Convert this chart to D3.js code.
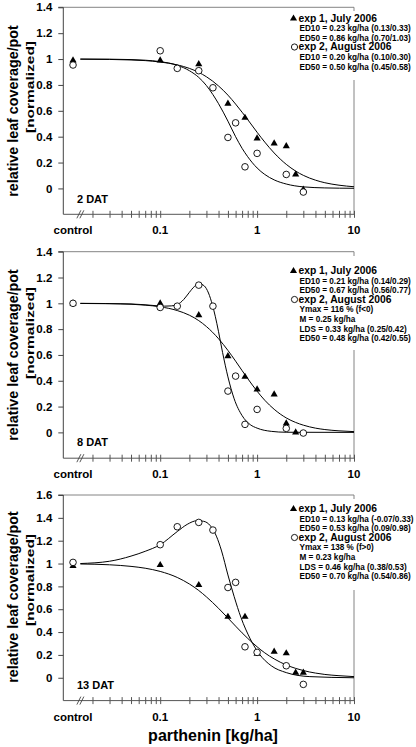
<!DOCTYPE html>
<html><head><meta charset="utf-8">
<script src="https://cdn.jsdelivr.net/npm/d3@7"></script>
<style>
body{margin:0;background:#fff}
svg{display:block}
text{font-family:"Liberation Sans",Arial,sans-serif;font-weight:bold;fill:#000}
</style>
</head><body>
<svg id="chart" width="416" height="747"></svg>
<script>
// ---------- data ----------
const controlLabel = "control";
const controlDose = 0.0126;              // where "control" sits on the log axis
const xTickValues = [0.1, 1, 10];
const xTickLabels = ["0.1", "1", "10"];
const xMinorTicks = [0.02,0.03,0.04,0.05,0.06,0.07,0.08,0.09,0.2,0.3,0.4,0.5,0.6,0.7,0.8,0.9,2,3,4,5,6,7,8,9];
const yTicksA = [0, 0.2, 0.4, 0.6, 0.8, 1, 1.2, 1.4];
const yTicksB = [0, 0.2, 0.4, 0.6, 0.8, 1, 1.2, 1.4, 1.6];
const panelLabels = ["2 DAT", "8 DAT", "13 DAT"];
const yTitle = "relative leaf coverage/pot";
const yTitle2 = "[normalized]";
const xTitle = "parthenin [kg/ha]";

// 2 DAT
const p1Exp1Dose  = [0, 0.1, 0.25, 0.5, 0.75, 1, 1.5, 2, 2.5, 3];
const p1Exp1Value = [0.99, 0.99, 0.96, 0.655, 0.546, 0.387, 0.348, 0.327, 0.108, -0.01];
const p1Exp2Dose  = [0, 0.1, 0.15, 0.25, 0.35, 0.5, 0.6, 0.75, 1, 2, 3];
const p1Exp2Value = [0.954, 1.064, 0.928, 0.91, 0.778, 0.394, 0.507, 0.167, 0.271, 0.108, -0.028];
const p1Fit1Dose  = [0.015,0.03,0.05,0.07,0.1,0.15,0.2,0.25,0.3,0.4,0.5,0.6,0.7,0.8,1,1.2,1.5,2,2.5,3,4,5,7,10];
const p1Fit1Value = [0.999,0.997,0.993,0.988,0.977,0.955,0.928,0.897,0.863,0.792,0.721,0.652,0.589,0.532,0.434,0.358,0.274,0.186,0.134,0.101,0.064,0.044,0.025,0.013];
const p1Fit2Dose  = [0.015,0.03,0.05,0.07,0.1,0.15,0.2,0.25,0.3,0.35,0.4,0.5,0.6,0.7,0.8,1,1.2,1.5,2,3,5,10];
const p1Fit2Value = [1.0,0.999,0.996,0.991,0.98,0.952,0.91,0.858,0.795,0.725,0.655,0.52,0.40,0.31,0.245,0.158,0.108,0.066,0.034,0.012,0.004,0.001];

// 8 DAT
const p2Exp1Dose  = [0, 0.1, 0.25, 0.5, 0.75, 1, 1.5, 2, 2.5];
const p2Exp1Value = [1.0, 1.0, 0.909, 0.591, 0.431, 0.333, 0.294, 0.07, 0.0];
const p2Exp2Dose  = [0, 0.1, 0.15, 0.25, 0.35, 0.5, 0.6, 0.75, 1, 2, 3];
const p2Exp2Value = [1.0, 0.968, 0.978, 1.141, 0.978, 0.32, 0.436, 0.062, 0.178, 0.031, -0.005];
const p2Fit1Dose  = [0.015,0.03,0.05,0.07,0.1,0.15,0.2,0.25,0.3,0.4,0.5,0.6,0.7,0.8,1,1.2,1.5,2,2.5,3,4,5,7,10];
const p2Fit1Value = [0.999,0.997,0.993,0.986,0.973,0.944,0.908,0.866,0.820,0.726,0.635,0.552,0.479,0.417,0.319,0.249,0.179,0.112,0.077,0.056,0.033,0.022,0.012,0.006];
const p2Fit2Dose  = [0.015,0.05,0.08,0.11,0.13,0.15,0.175,0.2,0.225,0.255,0.285,0.315,0.345,0.37,0.4,0.44,0.5,0.58,0.7,0.85,1,1.4,2,10];
const p2Fit2Value = [1.0,0.995,0.985,0.978,0.98,0.99,1.03,1.085,1.13,1.15,1.135,1.08,0.99,0.9,0.78,0.62,0.43,0.26,0.13,0.06,0.033,0.008,0.001,0.0];

// 13 DAT
const p3Exp1Dose  = [0, 0.1, 0.25, 0.5, 0.75, 1, 1.5, 2, 2.5, 3];
const p3Exp1Value = [0.98, 0.987, 0.812, 0.534, 0.534, 0.21, 0.228, 0.214, 0.044, 0.044];
const p3Exp2Dose  = [0, 0.1, 0.15, 0.25, 0.35, 0.5, 0.6, 0.75, 1, 2, 3];
const p3Exp2Value = [1.01, 1.165, 1.322, 1.36, 1.293, 0.79, 0.835, 0.271, 0.222, 0.105, -0.058];
const p3Fit1Dose  = [0.015,0.03,0.05,0.07,0.1,0.15,0.2,0.25,0.3,0.4,0.5,0.6,0.7,0.8,1,1.2,1.5,2,2.5,3,4,5,7,10];
const p3Fit1Value = [0.996,0.989,0.975,0.959,0.931,0.878,0.821,0.764,0.708,0.608,0.523,0.452,0.393,0.345,0.271,0.218,0.165,0.112,0.082,0.063,0.041,0.029,0.018,0.010];
const p3Fit2Dose  = [0.015,0.03,0.05,0.07,0.1,0.15,0.19,0.24,0.28,0.33,0.38,0.43,0.5,0.58,0.68,0.85,1.05,1.4,2,3.5,10];
const p3Fit2Value = [1.0,1.02,1.065,1.107,1.165,1.28,1.343,1.375,1.37,1.33,1.24,1.11,0.9,0.71,0.53,0.34,0.21,0.105,0.045,0.01,0.0];

// legends
const p1Legend1 = ["exp 1, July 2006", "ED10 = 0.23 kg/ha (0.13/0.33)", "ED50 = 0.86 kg/ha (0.70/1.03)"];
const p1Legend2 = ["exp 2, August 2006", "ED10 = 0.20 kg/ha (0.10/0.30)", "ED50 = 0.50 kg/ha (0.45/0.58)"];
const p2Legend1 = ["exp 1, July 2006", "ED10 = 0.21 kg/ha (0.14/0.29)", "ED50 = 0.67 kg/ha (0.56/0.77)"];
const p2Legend2 = ["exp 2, August 2006", "Ymax = 116 % (f<0)", "M = 0.25 kg/ha", "LDS = 0.33 kg/ha (0.25/0.42)", "ED50 = 0.48 kg/ha (0.42/0.55)"];
const p3Legend1 = ["exp 1, July 2006", "ED10 = 0.13 kg/ha (-0.07/0.33)", "ED50 = 0.53 kg/ha (0.09/0.98)"];
const p3Legend2 = ["exp 2, August 2006", "Ymax = 138 % (f>0)", "M = 0.23 kg/ha", "LDS = 0.46 kg/ha (0.38/0.53)", "ED50 = 0.70 kg/ha (0.54/0.86)"];

// ---------- layout ----------
const svg = d3.select("#chart");
const L = 63.3, R = 354;
const x = d3.scaleLog().domain([0.01, 10]).range([L, R]);
const panels = [
  {top: 7.3,   bottom: 214.3, yMax: 1.4, yTicks: yTicksA, label: panelLabels[0],
   e1: [p1Exp1Dose, p1Exp1Value], e2: [p1Exp2Dose, p1Exp2Value],
   f1: [p1Fit1Dose, p1Fit1Value], f2: [p1Fit2Dose, p1Fit2Value],
   leg1: p1Legend1, leg2: p1Legend2, legTop: 11, legBottom: 80, legY: 21.5, titleC: 111, title2C: 87},
  {top: 251.7, bottom: 458.2, yMax: 1.4, yTicks: yTicksA, label: panelLabels[1],
   e1: [p2Exp1Dose, p2Exp1Value], e2: [p2Exp2Dose, p2Exp2Value],
   f1: [p2Fit1Dose, p2Fit1Value], f2: [p2Fit2Dose, p2Fit2Value],
   leg1: p2Legend1, leg2: p2Legend2, legTop: 256, legBottom: 350, legY: 274, titleC: 355, title2C: 333},
  {top: 495,   bottom: 700.6, yMax: 1.6, yTicks: yTicksB, label: panelLabels[2],
   e1: [p3Exp1Dose, p3Exp1Value], e2: [p3Exp2Dose, p3Exp2Value],
   f1: [p3Fit1Dose, p3Fit1Value], f2: [p3Fit2Dose, p3Fit2Value],
   leg1: p3Legend1, leg2: p3Legend2, legTop: 499, legBottom: 590, legY: 512, titleC: 597, title2C: 580}
];

const pos = d => x(d === 0 ? controlDose : d);
const lineGen = (y) => d3.line().x(d => x(d[0])).y(d => y(d[1])).curve(d3.curveMonotoneX);
const tri = d3.symbol().type(d3.symbolTriangle).size(22);

panels.forEach(p => {
  const y = d3.scaleLinear().domain([-0.2, p.yMax]).range([p.bottom, p.top]);
  const g = svg.append("g");

  // frame (top + right)
  g.append("path").attr("d", `M${L},${p.top}H${R}V${p.bottom}`)
    .attr("fill", "none").attr("stroke", "#777").attr("stroke-width", 0.9);

  // y axis
  const ya = g.append("g").attr("transform", `translate(${L},0)`)
    .call(d3.axisLeft(y).tickValues(p.yTicks).tickSize(5).tickPadding(6).tickFormat(d => String(+d.toFixed(1))));
  ya.select(".domain").attr("stroke", "#444").attr("stroke-width", 1).attr("d", `M-5,${p.top}H0V${p.bottom}`);
  ya.selectAll(".tick line").attr("stroke", "#444");
  ya.selectAll(".tick text").style("font-size", "11.5px").attr("fill", "#000");

  // x axis
  const xa = g.append("g").attr("transform", `translate(0,${p.bottom - 3.5})`)
    .call(d3.axisBottom(x).tickValues(xTickValues.concat(xMinorTicks)).tickSize(7).tickFormat(""));
  xa.select(".domain").remove();
  xa.selectAll(".tick line").attr("stroke", "#555");
  g.append("line").attr("x1", L).attr("x2", R).attr("y1", p.bottom).attr("y2", p.bottom)
    .attr("stroke", "#555").attr("stroke-width", 1);
  // axis break
  const bx = x(0.015);
  [-1.5, 1.5].forEach(o => g.append("line")
    .attr("x1", bx + o - 2).attr("y1", p.bottom + 4).attr("x2", bx + o + 2).attr("y2", p.bottom - 4)
    .attr("stroke", "#444").attr("stroke-width", 0.9));
  // x tick labels
  const labs = [controlLabel].concat(xTickLabels);
  const labPos = [controlDose].concat(xTickValues);
  labs.forEach((t, i) => g.append("text").attr("x", x(labPos[i])).attr("y", p.bottom + 20)
    .attr("text-anchor", "middle").style("font-size", "11.5px").text(t));

  // fitted curves
  [p.f1, p.f2].forEach(f => g.append("path").datum(d3.zip(f[0], f[1])).attr("d", lineGen(y))
    .attr("fill", "none").attr("stroke", "#000").attr("stroke-width", 1));

  // points
  g.selectAll(".tri").data(d3.zip(p.e1[0], p.e1[1])).join("path")
    .attr("transform", d => `translate(${pos(d[0])},${y(d[1])})`).attr("d", tri).attr("fill", "#000");
  g.selectAll(".cir").data(d3.zip(p.e2[0], p.e2[1])).join("circle")
    .attr("cx", d => pos(d[0])).attr("cy", d => y(d[1])).attr("r", 3.3)
    .attr("fill", "#fff").attr("stroke", "#000").attr("stroke-width", 0.9);

  // panel label
  g.append("text").attr("x", 77).attr("y", p.bottom - 11.8).style("font-size", "11px").text(p.label);

  // y titles
  g.append("text").attr("transform", `translate(18,${p.titleC}) rotate(-90)`).attr("text-anchor", "middle")
    .style("font-size", "14.3px").text(yTitle);
  g.append("text").attr("transform", `translate(33.5,${p.title2C}) rotate(-90) scale(1.55,1)`).attr("text-anchor", "middle")
    .style("font-size", "10px").text(yTitle2);

  // legend
  g.append("rect").attr("x", 288).attr("y", p.legTop).attr("width", 128).attr("height", p.legBottom - p.legTop).attr("fill", "#fff");
  let yy = p.legY;
  const step = 9.6;
  const block = (lines, marker) => {
    lines.forEach((t, i) => {
      if (i === 0) {
        if (marker === "tri") g.append("path").attr("transform", `translate(293.5,${yy - 3})`).attr("d", tri).attr("fill", "#000");
        else g.append("circle").attr("cx", 294.5).attr("cy", yy - 3.3).attr("r", 3.1).attr("fill", "#fff").attr("stroke", "#000").attr("stroke-width", 0.9);
        g.append("text").attr("x", 298.5).attr("y", yy).style("font-size", "10.3px").text(t);
      } else {
        g.append("text").attr("x", 299.5).attr("y", yy).style("font-size", "8.2px").text(t);
      }
      yy += step;
    });
  };
  block(p.leg1, "tri");
  block(p.leg2, "cir");
});

// x title
svg.append("text").attr("x", 213).attr("y", 741).attr("text-anchor", "middle")
  .style("font-size", "16px").text(xTitle);
</script>
</body></html>
